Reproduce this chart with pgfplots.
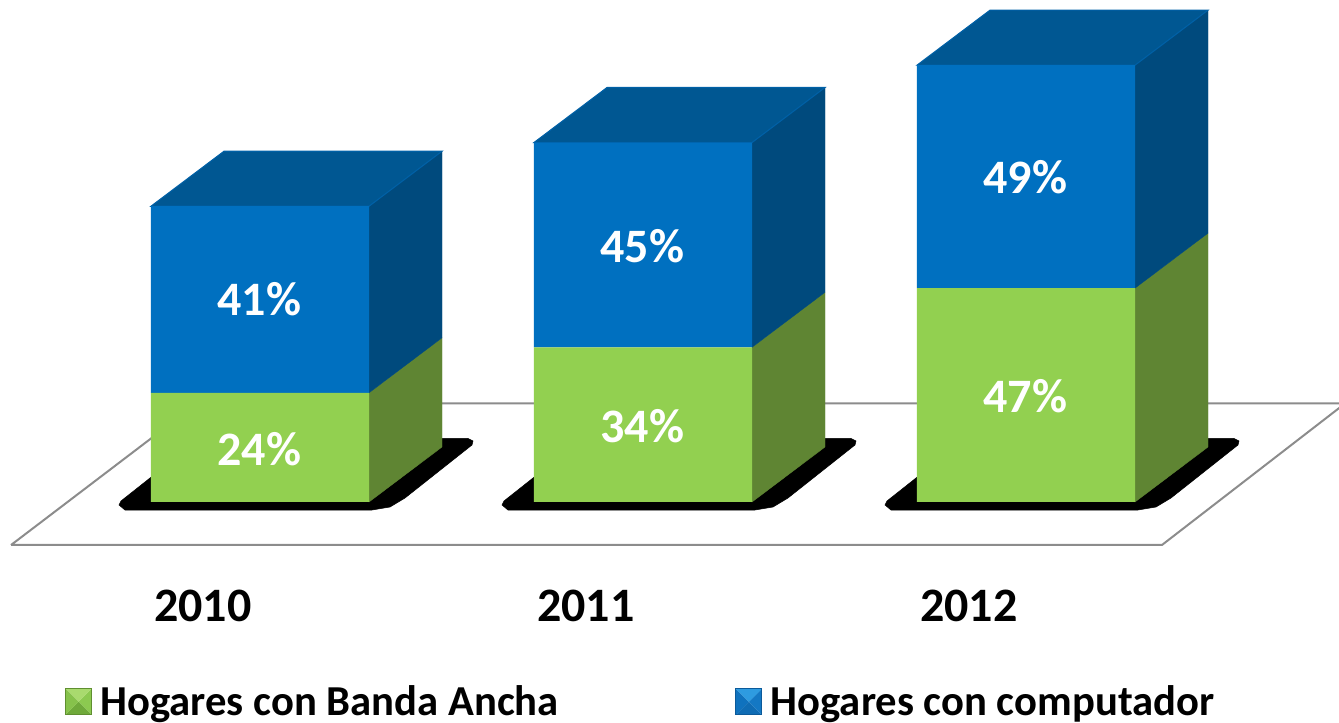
\documentclass[border=0pt]{standalone}
\usepackage{pgfplots}
\usepackage{fontspec}
\setmainfont{Carlito}
\pgfplotsset{compat=1.18}
\definecolor{gfront}{HTML}{92D050}
\definecolor{gside}{HTML}{5F8533}
\definecolor{bfront}{HTML}{0070C0}
\definecolor{bside}{HTML}{004A7D}
\definecolor{btop}{HTML}{005792}
\definecolor{bedge}{HTML}{0060A6}
\definecolor{floorc}{HTML}{8C8C8C}
\definecolor{gl1}{HTML}{6FA93A}\definecolor{gl2}{HTML}{86C24B}\definecolor{gl3}{HTML}{8CC950}\definecolor{gl4}{HTML}{A9DA6E}\definecolor{gl5}{HTML}{5F8F30}
\definecolor{bl1}{HTML}{0F6CB4}\definecolor{bl2}{HTML}{0F72BE}\definecolor{bl3}{HTML}{1478C4}\definecolor{bl4}{HTML}{2E9BE0}\definecolor{bl5}{HTML}{0B5A9A}
\pgfplotsset{
  base/.style={
    scale only axis, width=1004.25pt, height=542.25pt,
    xmin=-0.67885, xmax=2.81723, ymin=-48.571, ymax=110.330,
    axis line style={draw=none}, major tick length=0pt,
    ytick=\empty, xtick=\empty},
  poly/.style={fill=#1, draw=#1, line width=0.3pt, forget plot},
}
\newcommand{\bevel}[5]{%
  \path[fill=none, draw=none] (0pt,-9.75pt) rectangle (25pt,9.75pt);
  \fill[#1] (0pt,-9.75pt) -- (19.5pt,-9.75pt) -- (9.75pt,0pt) -- cycle;
  \fill[#2] (0pt,-9.75pt) -- (0pt,9.75pt) -- (9.75pt,0pt) -- cycle;
  \fill[#3] (19.5pt,-9.75pt) -- (19.5pt,9.75pt) -- (9.75pt,0pt) -- cycle;
  \fill[#4] (0pt,9.75pt) -- (19.5pt,9.75pt) -- (9.75pt,0pt) -- cycle;
  \draw[draw=#5, fill=none, line width=0.6pt] (0pt,-9.75pt) rectangle (19.5pt,9.75pt);
}
\begin{document}
\begin{tikzpicture}
\path[use as bounding box] (0,0) rectangle (1004.25pt,542.25pt);
% floor, shadows, side and top faces
\begin{axis}[base]
\addplot[draw=floorc, line width=1.5pt, forget plot] coordinates
  {(-0.650,-9.45) (2.355,-9.45) (2.833,21.65) (-0.1645,21.65) (-0.650,-9.45)};
\addplot[fill=black, draw=black, forget plot] coordinates {(-0.3629,0.22) (-0.3681,-0.66) (-0.3525,-1.76) (0.2924,-1.76) (0.3394,-1.10) (0.3786,0.88) (0.5535,12.53) (0.5561,13.41) (0.5431,13.96) (-0.1567,13.96)} -- cycle;
\addplot[fill=black, draw=black, forget plot] coordinates {(0.6371,0.22) (0.6319,-0.66) (0.6475,-1.76) (1.2924,-1.76) (1.3394,-1.10) (1.3786,0.88) (1.5535,12.53) (1.5561,13.41) (1.5431,13.96) (0.8433,13.96)} -- cycle;
\addplot[fill=black, draw=black, forget plot] coordinates {(1.6371,0.22) (1.6319,-0.66) (1.6475,-1.76) (2.2924,-1.76) (2.3394,-1.10) (2.3786,0.88) (2.5535,12.53) (2.5561,13.41) (2.5431,13.96) (1.8433,13.96)} -- cycle;
% green sides
\addplot[poly=gside] coordinates {(0.2846,0) (0.4752,12.09) (0.4752,36.09) (0.2846,24)} -- cycle;
\addplot[poly=gside] coordinates {(1.2846,0) (1.4752,12.09) (1.4752,46.09) (1.2846,34)} -- cycle;
\addplot[poly=gside] coordinates {(2.2846,0) (2.4752,12.09) (2.4752,59.09) (2.2846,47)} -- cycle;
% blue sides
\addplot[poly=bside] coordinates {(0.2846,24) (0.4752,36.09) (0.4752,77.09) (0.2846,65)} -- cycle;
\addplot[poly=bside] coordinates {(1.2846,34) (1.4752,46.09) (1.4752,91.09) (1.2846,79)} -- cycle;
\addplot[poly=bside] coordinates {(2.2846,47) (2.4752,59.09) (2.4752,108.09) (2.2846,96)} -- cycle;
% tops
\addplot[fill=btop, draw=bedge, line width=0.8pt, forget plot] coordinates {(-0.2846,65) (-0.094,77.09) (0.4752,77.09) (0.2846,65)} -- cycle;
\addplot[fill=btop, draw=bedge, line width=0.8pt, forget plot] coordinates {(0.7154,79) (0.906,91.09) (1.4752,91.09) (1.2846,79)} -- cycle;
\addplot[fill=btop, draw=bedge, line width=0.8pt, forget plot] coordinates {(1.7154,96) (1.906,108.09) (2.4752,108.09) (2.2846,96)} -- cycle;
\end{axis}
% front faces, year labels, legend
\begin{axis}[base,
  ybar stacked, bar width=0.5692, bar shift=0pt,
  xtick={0,1,2}, xticklabels={2010,2011,2012},
  xticklabel style={font=\fontsize{36}{40}\selectfont\bfseries, anchor=center, xshift=-43pt, yshift=87.75pt},
  legend columns=2,
  legend style={at={(0,0)}, anchor=south west, xshift=49pt, yshift=3pt,
    draw=none, fill=none, inner sep=0pt, outer sep=0pt,
    font=\fontsize{32}{35}\selectfont\bfseries,
    /tikz/every even column/.append style={column sep=131.5pt},
    nodes={inner sep=1pt}},
]
\addplot[fill=gfront, draw=none, area legend,
  legend image code/.code={\bevel{gl1}{gl2}{gl3}{gl4}{gl5}}]
  coordinates {(0,24) (1,34) (2,47)};
\addlegendentry{Hogares con Banda Ancha}
\addplot[fill=bfront, draw=none, area legend,
  legend image code/.code={\bevel{bl1}{bl2}{bl3}{bl4}{bl5}}]
  coordinates {(0,41) (1,45) (2,49)};
\addlegendentry{Hogares con computador}
\end{axis}
% value labels
\begin{axis}[base,
  every node near coord/.style={anchor=center, text=white, font=\fontsize{36}{40}\selectfont\bfseries},
]
\addplot[draw=none, mark=none, point meta=explicit symbolic, nodes near coords]
  coordinates {(-0.002,11.7)[24\%] (-0.002,44.5)[41\%] (0.998,16.7)[34\%] (0.998,56.3)[45\%] (1.998,23.2)[47\%] (1.998,71.3)[49\%]};
\end{axis}
\end{tikzpicture}
\end{document}
